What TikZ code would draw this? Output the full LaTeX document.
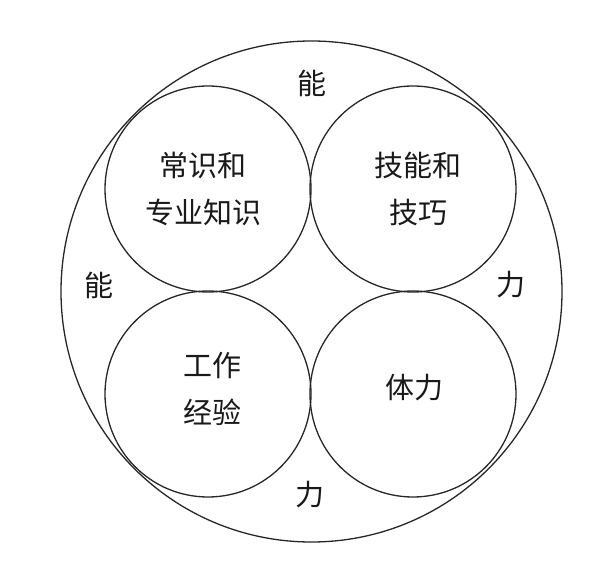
\documentclass[tikz,border=0pt]{standalone}
\usepackage{fontspec}
\newfontfamily\cjk{Noto Sans CJK SC}
\begin{document}
\begin{tikzpicture}[x=1pt,y=-1pt,
  ring/.style={draw=black!85,line width=1.3pt},
  lbl/.style={font=\cjk\fontsize{29}{47}\selectfont,align=center,text=black!90,inner sep=0pt}]
\useasboundingbox (0,0) rectangle (614,569);
\node[ring,circle,minimum size=501pt,inner sep=0pt] (big) at (311.5,291.5) {};
\node[ring,circle,minimum size=206pt,inner sep=0pt] (c1) at (208,189) {};
\node[ring,circle,minimum size=206pt,inner sep=0pt] (c2) at (413,189) {};
\node[ring,circle,minimum size=206pt,inner sep=0pt] (c3) at (208,394) {};
\node[ring,circle,minimum size=206pt,inner sep=0pt] (c4) at (413,394) {};
\node[lbl] (t1) at (203,188.5) {常识和\\专业知识};
\node[lbl] (t2) at (418,188.5) {技能和\\技巧};
\node[lbl] (t3) at (212,388.5) {工作\\经验};
\node[lbl] (t4) at (414,388) {体力};
\node[lbl] (n1) at (312,83) {能};
\node[lbl] (n2) at (99,285) {能};
\node[lbl] (n3) at (511,285) {力};
\node[lbl] (n4) at (310,495) {力};
\end{tikzpicture}
\end{document}
